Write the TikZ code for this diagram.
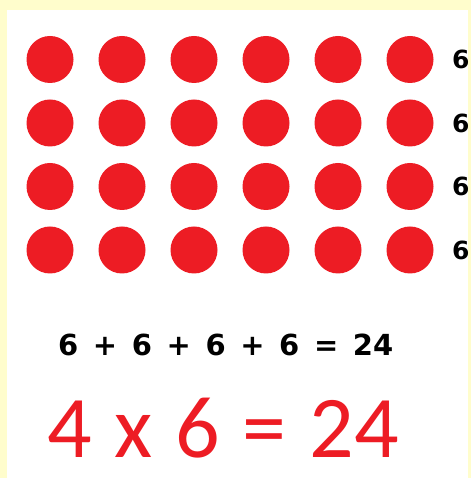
\documentclass[tikz,border=0pt]{standalone}
\usepackage{fontspec}
\newfontfamily\comicfont[Scale=1]{DejaVu Sans}
\newfontfamily\calfont{Carlito}
\definecolor{cream}{HTML}{FFFDCC}
\definecolor{dotred}{HTML}{ED1C24}
\begin{document}
\begin{tikzpicture}[x=1pt,y=1pt,
  dot/.style={circle,fill=dotred,minimum size=47pt,inner sep=0pt},
  rowlab/.style={anchor=west,font=\comicfont\bfseries\fontsize{25}{25}\selectfont,inner sep=0pt},
  sumtxt/.style={font=\comicfont\bfseries\fontsize{29}{29}\selectfont,inner sep=0pt},
  prodtxt/.style={font=\calfont\fontsize{88}{88}\selectfont,text=dotred,inner sep=0pt}]
\fill[cream] (0,0) rectangle (471,478);
\fill[white] (7,0) rectangle (468,468);
\begin{scope}
\clip (7,0) rectangle (468,468);
\foreach \r/\yy in {1/418.5,2/355,3/291.5,4/228}{
  \foreach \c in {1,...,6}{
    \node[dot] (d\r\c) at ({50+72*(\c-1)},\yy) {};
  }
  \node[rowlab] (lab\r) at (452,\yy) {6};
}
\end{scope}
\node[sumtxt,anchor=west] (sum) at (58,133) {\spaceskip=14.6pt 6 + 6 + 6 + 6 = 24};
\node[prodtxt,anchor=west] (prod) at (47,50) {\spaceskip=22.8pt 4 x 6 = 24};
\end{tikzpicture}
\end{document}
